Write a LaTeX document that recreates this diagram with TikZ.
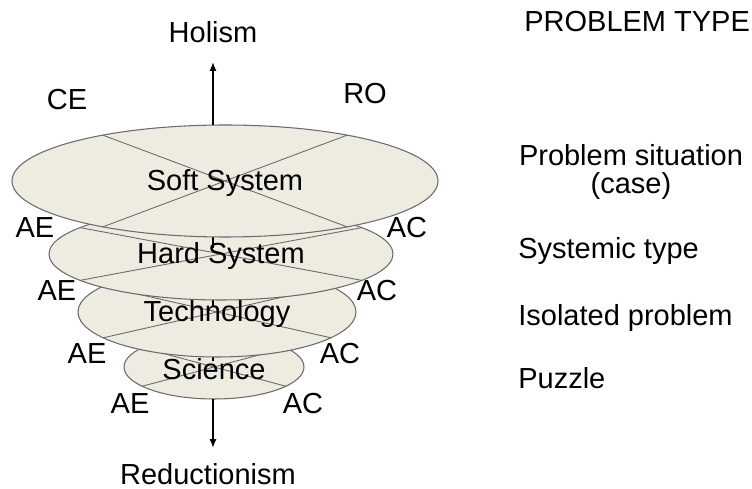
\documentclass[tikz,border=0pt]{standalone}
\usepackage{fontspec}
\setmainfont{Liberation Sans}
\usetikzlibrary{positioning,
                arrows.meta,                % arrow tips
                calc}

\definecolor{disk}{HTML}{EEECE1}
\definecolor{rim}{HTML}{6A6A6A}

\tikzset{
    lbl/.style={font=\fontsize{16.5}{16}\selectfont, inner sep=0pt},
    rimline/.style={draw=rim, line width=0.6pt},
    axis/.style={line width=1pt, -{Latex[length=5pt, width=4pt]}},
}

\begin{document}
\begin{tikzpicture}[x=0.02cm, y=-0.02cm]
    \useasboundingbox (0,0) rectangle (752,489);

    % disks, bottom one first so that each is covered by the one above
    \foreach \cx/\cy/\rx/\ry/\ang/\nm/\txt in {
        214/367/90/32/37/sci/Science,
        217/312/139/45/35/tech/Technology,
        221/254/172/46/35/hard/Hard System,
        225/181/213/56/55/soft/Soft System}{
        \fill[disk] (\cx,\cy) ellipse [x radius=\rx, y radius=\ry];
        \draw[rimline, line width=0.5pt]
            ({\cx-\rx*cos(\ang)},{\cy-\ry*sin(\ang)}) -- ({\cx+\rx*cos(\ang)},{\cy+\ry*sin(\ang)})
            ({\cx-\rx*cos(\ang)},{\cy+\ry*sin(\ang)}) -- ({\cx+\rx*cos(\ang)},{\cy-\ry*sin(\ang)});
        \ifnum\cy>200
            \draw[line width=1pt] (213,\cy-6) -- (213,\cy-\ry);
        \fi
        \draw[rimline] (\cx,\cy) ellipse [x radius=\rx, y radius=\ry];
        \node[lbl] (\nm) at (\cx,\cy+2) {\txt};
    }

    % ends of the two arrows
    \coordinate (soft-top) at (213,125);
    \coordinate (sci-bot) at (213,399);
    \coordinate (up-tip) at (213,62);
    \coordinate (down-tip) at (213,448);
    \draw[axis] (soft-top) -- (up-tip);
    \draw[axis] (sci-bot) -- (down-tip);

    \node[lbl] (holism) at (213,32) {Holism};
    \node[lbl] (reduct) at (208,474) {Reductionism};
    \node[lbl] (ce) at (67,100) {CE};
    \node[lbl] (ro) at (365,94) {RO};

    % side labels of each disk
    \foreach \lx/\rx/\y/\i in {35/407/228/1, 57/377/291/2, 87/340/354/3, 130/303/404/4}{
        \node[lbl] (ae\i) at (\lx,\y) {AE};
        \node[lbl] (ac\i) at (\rx,\y) {AC};
    }

    % problem types
    \node[lbl, anchor=west] (ptypes) at (524,22) {PROBLEM TYPE};
    \node[lbl, align=center] (situation) at (631,172) {Problem situation\\(case)};
    \node[lbl, anchor=west] (systemic) at (518,251) {Systemic type};
    \node[lbl, anchor=west] (isolated) at (518,318) {Isolated problem};
    \node[lbl, anchor=west] (puzzle) at (518,378) {Puzzle};
\end{tikzpicture}
\end{document}
